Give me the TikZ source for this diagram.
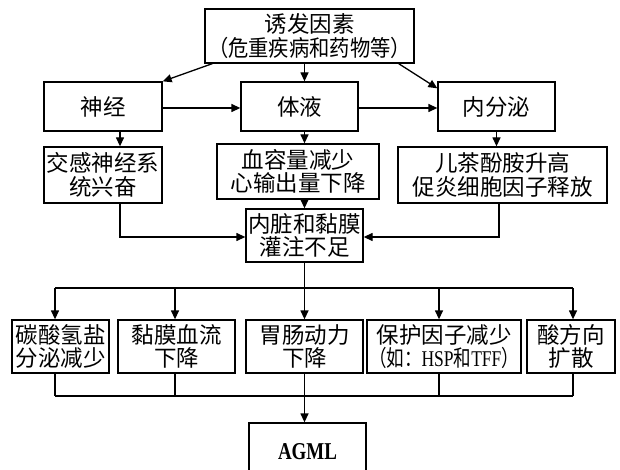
\documentclass[tikz,border=0pt]{standalone}
\usepackage{fontspec}
\usepackage{graphicx}
\setmainfont{Noto Sans CJK SC}
\newfontfamily\lat{Liberation Serif}
\usetikzlibrary{arrows.meta,calc}
\begin{document}
\begin{tikzpicture}[x=1pt,y=-1pt,
  box/.style={draw, line width=1.3pt, inner sep=0pt, align=center,
    font=\fontsize{22.5}{23.5}\selectfont},
  conn/.style={line width=1.3pt},
  arr/.style={line width=1.3pt, -{Triangle[length=9pt,width=8pt]}}]
\useasboundingbox (0,0) rectangle (620,470);
\clip (0,0) rectangle (620,470);
% boxes
\node[box, minimum width=209pt, minimum height=54pt] (top) at (309.5,36) {诱发因素\\\resizebox{203pt}{\height}{（危重疾病和药物等）}};
\node[box, minimum width=118pt, minimum height=49pt] (shen) at (103,106.5) {神经};
\node[box, minimum width=117pt, minimum height=49pt] (tiye) at (299.5,106.5) {体液};
\node[box, minimum width=117pt, minimum height=49pt] (neifen) at (496.5,106.5) {内分泌};
\node[box, minimum width=118pt, minimum height=56pt] (jiaogan) at (103,175) {交感神经系\\统兴奋};
\node[box, minimum width=162pt, minimum height=55pt] (xue) at (298,171.5) {血容量减少\\心输出量下降};
\node[box, minimum width=209pt, minimum height=56pt] (ercha) at (502.5,175) {儿茶酚胺升高\\促炎细胞因子释放};
\node[box, minimum width=117pt, minimum height=53pt] (neizang) at (304.5,235.5) {内脏和黏膜\\灌注不足};
\node[box, minimum width=97pt, minimum height=53pt] (tan) at (60.5,346.5) {碳酸氢盐\\分泌减少};
\node[box, minimum width=117pt, minimum height=53pt] (nian) at (176.5,346.5) {黏膜血流\\下降};
\node[box, minimum width=117pt, minimum height=53pt] (weichang) at (304.5,346.5) {胃肠动力\\下降};
\node[box, minimum width=154pt, minimum height=53pt] (baohu) at (444,346.5) {保护因子减少\\\resizebox{150pt}{\height}{（如：{\lat HSP}和{\lat TFF}）}};
\node[box, minimum width=88pt, minimum height=53pt] (suan) at (571,346.5) {酸方向\\扩散};
\node[box, minimum width=117pt, minimum height=57pt] (agml) at (307.5,451.5) {\resizebox{59pt}{16pt}{\lat\bfseries AGML}};
% upper connectors
\draw[arr] ($(top.south west)+(8,0)$) -- (shen.north east);
\draw[arr] (top.south -| neizang) -- (tiye.north -| neizang);
\draw[arr] ($(top.south east)+(-16,0)$) -- ($(neifen.north west)+(0,7)$);
\draw[arr] ($(shen.east)+(0,1.5)$) -- ($(tiye.west)+(0,1.5)$);
\draw[arr] ($(tiye.east)+(0,1.5)$) -- ($(neifen.west)+(0,1.5)$);
\coordinate (sx) at ($(shen.south)+(17,0)$);
\draw[arr] (sx) -- (sx |- jiaogan.north);
\draw[arr] (tiye.south -| neizang) -- (xue.north -| neizang);
\draw[arr] (neifen.south) -- (neifen.south |- ercha.north);
\draw[arr] (xue.south -| neizang) -- (neizang.north);
\draw[arr] ($(jiaogan.south)+(17,0)$) |- ($(neizang.west)+(0,1.5)$);
\draw[arr] ($(ercha.south)+(-3.5,0)$) |- ($(neizang.east)+(0,1.5)$);
% distribution bus
\coordinate (t1) at (55,288);
\coordinate (t2) at (175,288);
\coordinate (t4) at (439,288);
\coordinate (t5) at (573,288);
\draw[conn] (t1) -- (t5);
\draw[arr] (neizang.south) -- (weichang.north);
\draw[arr] (t1) -- (t1 |- tan.north);
\draw[arr] (t2) -- (t2 |- nian.north);
\draw[arr] (t4) -- (t4 |- baohu.north);
\draw[arr] (t5) -- (t5 |- suan.north);
% collection bus
\coordinate (u1) at (55,396);
\coordinate (u2) at (175,396);
\coordinate (u4) at (439,396);
\coordinate (u5) at (573,396);
\draw[conn] (u1) -- (u5);
\draw[conn] (u1 |- tan.south) -- (u1);
\draw[conn] (u2 |- nian.south) -- (u2);
\draw[conn] (u4 |- baohu.south) -- (u4);
\draw[conn] (u5 |- suan.south) -- (u5);
\draw[arr] (weichang.south) -- (weichang.south |- agml.north);
\end{tikzpicture}
\end{document}
